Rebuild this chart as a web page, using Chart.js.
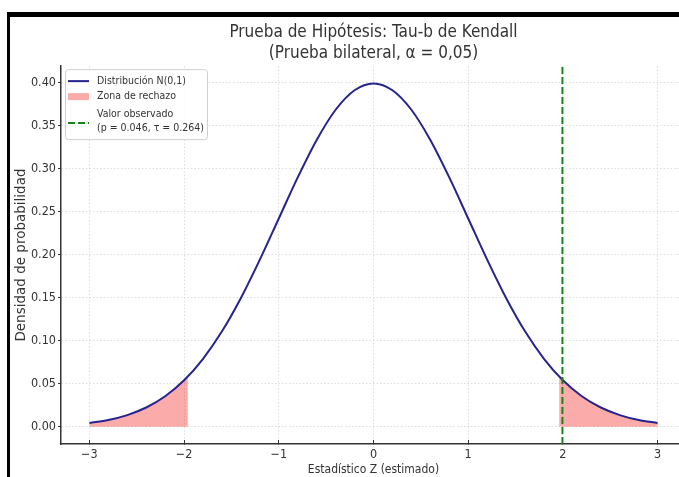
<!DOCTYPE html>
<html>
<head>
<meta charset="utf-8">
<script src="https://cdn.jsdelivr.net/npm/chart.js@4.4.1/dist/chart.umd.min.js"></script>
<style>
  html, body { margin: 0; padding: 0; background: #fff; overflow: hidden; width: 679px; height: 477px; }
  #frame { position: absolute; left: 7px; top: 12px; width: 700px; height: 480px; border-top: 5px solid #000; border-left: 3px solid #000; }
  #chart { position: absolute; left: 10px; top: 17px; }
</style>
</head>
<body>
<div id="frame"></div>
<canvas id="chart" width="676" height="460"></canvas>
<script>
// curve N(0,1)
const zVals = [-3.0, -2.8, -2.6, -2.4, -2.2, -2.0, -1.8, -1.6, -1.4, -1.2, -1.0, -0.8, -0.6, -0.4, -0.2, 0.0,
  0.2, 0.4, 0.6, 0.8, 1.0, 1.2, 1.4, 1.6, 1.8, 2.0, 2.2, 2.4, 2.6, 2.8, 3.0]
const pdfVals = [0.0044, 0.0079, 0.0136, 0.0224, 0.0355, 0.0540, 0.0790, 0.1109, 0.1497, 0.1942, 0.2420, 0.2897, 0.3332, 0.3683, 0.3910, 0.3989,
  0.3910, 0.3683, 0.3332, 0.2897, 0.2420, 0.1942, 0.1497, 0.1109, 0.0790, 0.0540, 0.0355, 0.0224, 0.0136, 0.0079, 0.0044]

// rejection zones (|z| >= 1.96)
const leftZoneZ = [-3.0, -2.8, -2.6, -2.4, -2.2, -2.0, -1.96]
const leftZonePdf = [0.0044, 0.0079, 0.0136, 0.0224, 0.0355, 0.0540, 0.0584]
const rightZoneZ = [1.96, 2.0, 2.2, 2.4, 2.6, 2.8, 3.0]
const rightZonePdf = [0.0584, 0.0540, 0.0355, 0.0224, 0.0136, 0.0079, 0.0044]

// observed value
const obsZ = [1.995]

const xTicks = [-3, -2, -1, 0, 1, 2, 3]
const yTicks = [0, 0.05, 0.1, 0.15, 0.2, 0.25, 0.3, 0.35, 0.4]
const xRange = [-3.3, 3.3]
const yRange = [-0.02, 0.419]

const titleLines = ['Prueba de Hipótesis: Tau-b de Kendall', '(Prueba bilateral, α = 0,05)']
const legendLabels = ['Distribución N(0,1)', 'Zona de rechazo', 'Valor observado', '(p = 0.046, τ = 0.264)']

const FONT = "'DejaVu Sans Condensed', 'DejaVu Sans', sans-serif"
Chart.defaults.font.family = FONT
Chart.defaults.color = '#333'

const CURVE = '#25238f'
const ZONE = 'rgba(245, 0, 0, 0.33)'
const OBS = '#178417'

const toPts = (xs, ys) => xs.map((x, i) => ({ x: x, y: ys[i] }))
const minus = (v) => (v < 0 ? '\u2212' + Math.abs(v) : String(v))

// center the title on the plot area, like matplotlib does
const titleOnAxes = {
  id: 'titleOnAxes',
  afterLayout(chart) {
    if (chart.titleBlock) {
      chart.titleBlock.left = chart.chartArea.left
      chart.titleBlock.right = chart.chartArea.right
    }
  },
}

const legendBox = {
  id: 'legendBox',
  afterDatasetsDraw(chart) {
    const ctx = chart.ctx
    const x = chart.chartArea.left + 4
    const y = chart.chartArea.top + 3
    ctx.save()
    ctx.beginPath()
    ctx.roundRect(x + 0.5, y + 0.5, 142, 70, 3)
    ctx.fillStyle = 'rgba(255,255,255,0.85)'
    ctx.fill()
    ctx.strokeStyle = '#d0d0d0'
    ctx.lineWidth = 1
    ctx.stroke()

    // line sample
    ctx.strokeStyle = CURVE
    ctx.lineWidth = 2
    ctx.beginPath()
    ctx.moveTo(x + 3, y + 12)
    ctx.lineTo(x + 24, y + 12)
    ctx.stroke()
    // patch
    ctx.fillStyle = ZONE
    ctx.fillRect(x + 3, y + 24, 21, 7)
    // dashed
    ctx.strokeStyle = OBS
    ctx.setLineDash([7, 3])
    ctx.beginPath()
    ctx.moveTo(x + 3, y + 54)
    ctx.lineTo(x + 24, y + 54)
    ctx.stroke()
    ctx.setLineDash([])

    ctx.fillStyle = '#333'
    ctx.font = '10.5px ' + FONT
    ctx.textBaseline = 'middle'
    ctx.textAlign = 'left'
    ctx.fillText(legendLabels[0], x + 32, y + 12)
    ctx.fillText(legendLabels[1], x + 32, y + 27)
    ctx.fillText(legendLabels[2], x + 32, y + 45)
    ctx.fillText(legendLabels[3], x + 32, y + 59)
    ctx.restore()
  },
}

const ctx = document.getElementById('chart').getContext('2d')
const chart = new Chart(ctx, {
  type: 'line',
  data: {
    datasets: [
      {
        label: 'Valor observado',
        data: [{ x: obsZ[0], y: yRange[0] }, { x: obsZ[0], y: yRange[1] }],
        borderColor: OBS,
        borderWidth: 2,
        borderDash: [7, 3],
        pointRadius: 0,
        fill: false,
      },
      {
        label: 'Distribución N(0,1)',
        data: toPts(zVals, pdfVals),
        borderColor: CURVE,
        borderWidth: 2,
        pointRadius: 0,
        cubicInterpolationMode: 'monotone',
        fill: false,
      },
      {
        label: 'Zona de rechazo',
        data: toPts(leftZoneZ, leftZonePdf),
        borderWidth: 0,
        borderColor: 'rgba(0,0,0,0)',
        backgroundColor: ZONE,
        pointRadius: 0,
        cubicInterpolationMode: 'monotone',
        fill: 'origin',
      },
      {
        label: 'Zona de rechazo 2',
        data: toPts(rightZoneZ, rightZonePdf),
        borderWidth: 0,
        borderColor: 'rgba(0,0,0,0)',
        backgroundColor: ZONE,
        pointRadius: 0,
        cubicInterpolationMode: 'monotone',
        fill: 'origin',
      },
    ],
  },
  options: {
    responsive: false,
    animation: false,
    layout: { padding: 0 },
    plugins: {
      legend: { display: false },
      tooltip: { enabled: false },
      title: {
        display: true,
        text: titleLines,
        color: '#333',
        font: { size: 17, weight: 'normal', lineHeight: 1.18 },
        padding: { top: 6, bottom: 3 },
      },
    },
    scales: {
      x: {
        type: 'linear',
        min: xRange[0],
        max: xRange[1],
        afterBuildTicks: (s) => {
          s.ticks = xTicks.map((v) => ({ value: v }))
        },
        afterFit: (s) => {
          s.height = 33
        },
        ticks: {
          font: { size: 12.5 },
          color: '#333',
          padding: 7,
          maxRotation: 0,
          callback: (v) => minus(v),
        },
        grid: { color: '#d4d4d4', lineWidth: 0.8, tickLength: -4, tickColor: '#333', tickWidth: 1 },
        border: { color: '#333', width: 1.5, dash: [1.5, 2] },
        title: { display: true, text: 'Estadístico Z (estimado)', font: { size: 12 }, color: '#333', padding: 0 },
      },
      y: {
        type: 'linear',
        min: yRange[0],
        max: yRange[1],
        afterBuildTicks: (s) => {
          s.ticks = yTicks.map((v) => ({ value: v }))
        },
        afterFit: (s) => {
          s.width = 51
        },
        ticks: {
          font: { size: 12.5 },
          color: '#333',
          padding: 2,
          callback: (v) => v.toFixed(2),
        },
        grid: { color: '#d4d4d4', lineWidth: 0.8, tickLength: 3, tickColor: '#333', tickWidth: 1 },
        border: { color: '#333', width: 1.5, dash: [1.5, 2] },
        title: {
          display: true,
          text: 'Densidad de probabilidad',
          font: { family: "'DejaVu Sans', sans-serif", size: 13.5 },
          color: '#333',
          padding: 3,
        },
      },
    },
  },
  plugins: [titleOnAxes, legendBox],
})
</script>
</body>
</html>
